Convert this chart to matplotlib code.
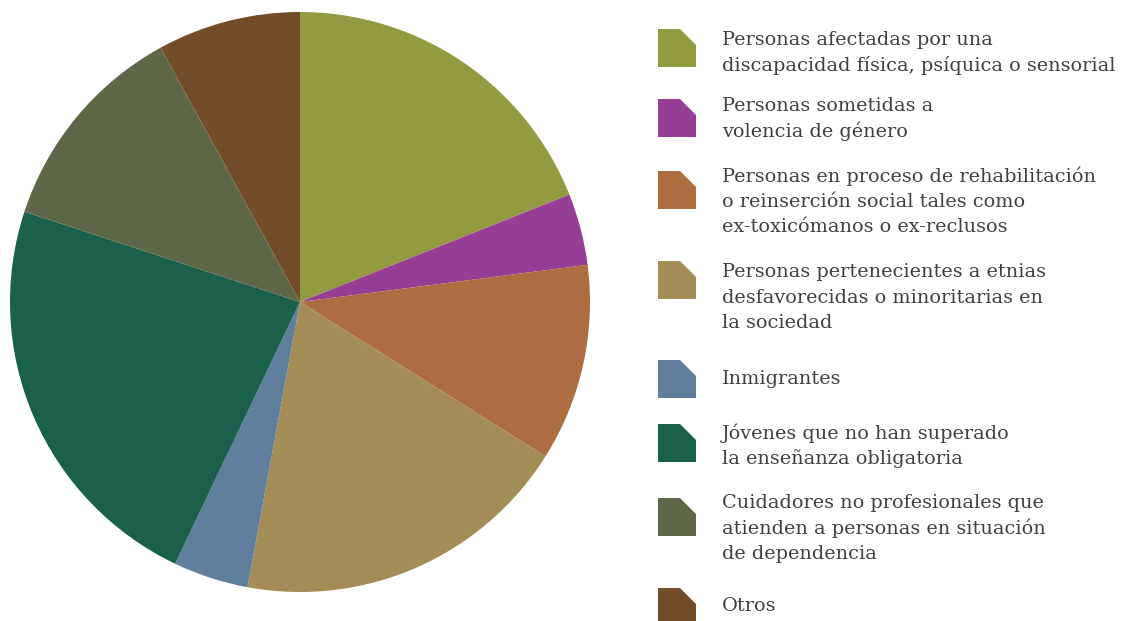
import matplotlib
matplotlib.use("Agg")
import matplotlib.pyplot as plt
from matplotlib.patches import Polygon

# share of each group, clockwise from the top
labels = [
    "Personas afectadas por una\ndiscapacidad física, psíquica o sensorial",
    "Personas sometidas a\nvolencia de género",
    "Personas en proceso de rehabilitación\no reinserción social tales como\nex-toxicómanos o ex-reclusos",
    "Personas pertenecientes a etnias\ndesfavorecidas o minoritarias en\nla sociedad",
    "Inmigrantes",
    "Jóvenes que no han superado\nla enseñanza obligatoria",
    "Cuidadores no profesionales que\natienden a personas en situación\nde dependencia",
    "Otros",
]
values = [19, 4, 11, 19, 4.2, 23, 12, 8]
colors = ["#939B40", "#963D96", "#AD6D41", "#A38C55",
          "#5F7F9C", "#1B604A", "#5E6849", "#734D2A"]

W, H = 1135, 621
fig = plt.figure(figsize=(W / 100, H / 100), dpi=100)

# pie, centre around (300, 302) px, radius 290 px
cx, cy, r = 300, 302, 290
pie_ax = fig.add_axes([(cx - r) / W, (H - cy - r) / H, 2 * r / W, 2 * r / H])
pie_ax.pie(values, colors=colors, startangle=90, counterclock=False,
           radius=1, wedgeprops=dict(linewidth=0))
pie_ax.set_xlim(-1, 1)
pie_ax.set_ylim(-1, 1)
pie_ax.set_aspect("equal")
pie_ax.axis("off")

# legend drawn in pixel coordinates
leg = fig.add_axes([0, 0, 1, 1])
leg.set_xlim(0, W)
leg.set_ylim(H, 0)
leg.axis("off")
leg.patch.set_alpha(0)

box_tops = [29, 99, 171, 261, 360, 424, 498, 588]
text_first = [40, 106, 176, 272, 379, 433, 503, 606]
box_x, box_s, cut = 658, 38, 16
line_h = 25.7

for i, lab in enumerate(labels):
    y0 = box_tops[i]
    pts = [(box_x, y0), (box_x + box_s - cut, y0), (box_x + box_s, y0 + cut),
           (box_x + box_s, y0 + box_s), (box_x, y0 + box_s)]
    leg.add_patch(Polygon(pts, closed=True, facecolor=colors[i], edgecolor="none"))
    for j, line in enumerate(lab.split("\n")):
        leg.text(722, text_first[i] + j * line_h, line, fontsize=13.9,
                 family="DejaVu Serif", color="#404040", va="center", ha="left")

fig.savefig("out.png", dpi=100)
